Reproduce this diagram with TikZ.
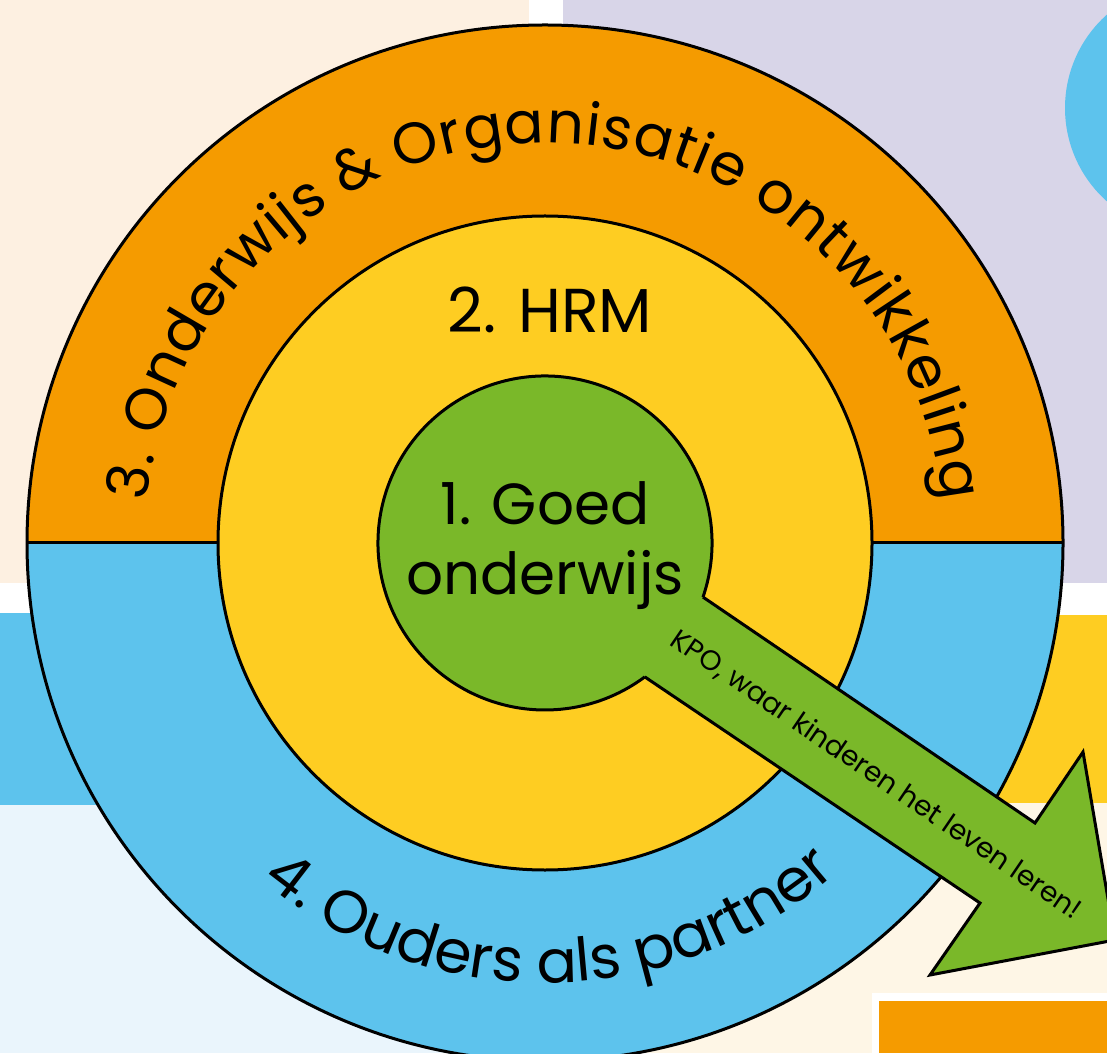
\documentclass[tikz,border=0pt]{standalone}
\usepackage{fontspec}
\setmainfont{Poppins}
\newfontfamily\kpofont{Poppins}
\usepackage{tikz}
\usetikzlibrary{calc}
\usetikzlibrary{decorations.text}
\usepackage{xcolor}

\definecolor{kpoOrange}{RGB}{245,155,0}
\definecolor{kpoYellow}{RGB}{254,205,34}
\definecolor{kpoBlue}{RGB}{93,195,237}
\definecolor{kpoGreen}{RGB}{122,184,41}
\definecolor{kpoCream}{RGB}{253,240,225}
\definecolor{kpoLavender}{RGB}{216,213,232}
\definecolor{kpoIce}{RGB}{234,245,252}
\definecolor{kpoSand}{RGB}{254,246,230}

\tikzset{
	ringline/.style={draw=black, line width=3pt},
	ringtext/.style={font=\kpofont\fontsize{#1}{#1}\selectfont, text=black, inner sep=0pt}
}

\begin{document}
\begin{tikzpicture} [x=1pt, y=1pt]
	\useasboundingbox (0, 0) rectangle (1107, 1053);
	\clip (0, 0) rectangle (1107, 1053);
	% achtergrondvlakken
	\fill [white] (0, 0) rectangle (1107, 1053);
	\fill [kpoCream] (0, 470) rectangle (529, 1053);
	\fill [kpoLavender] (563, 470) rectangle (1107, 1053);
	\fill [kpoBlue] (0, 248) rectangle (529, 440);
	\fill [kpoYellow] (563, 250) rectangle (1107, 438);
	\fill [kpoIce] (0, 0) rectangle (529, 248);
	\fill [kpoSand] (563, 0) rectangle (1107, 250);
	\fill [kpoBlue] (1190, 945) circle [radius=125];
	\fill [white] (872, 0) rectangle (1107, 60);
	\fill [kpoOrange] (879, 0) rectangle (1107, 52);
	% ringen
	\coordinate (c) at (545, 510);
	\fill [kpoOrange] ($(c)+(518, 0)$) arc [start angle=0, end angle=180, radius=518] -- cycle;
	\fill [kpoBlue] ($(c)+(-518, 0)$) arc [start angle=180, end angle=360, radius=518] -- cycle;
	\draw [ringline] (c) circle [radius=518];
	\draw [ringline] ($(c)+(-518, 0)$) -- ($(c)+(518, 0)$);
	\filldraw [ringline, fill=kpoYellow] (c) circle [radius=327];
	% pijl vanuit het midden
	\coordinate (p1) at ($(c)+(-18.9:167)$);
	\coordinate (p2) at (1035, 230);
	\coordinate (p3) at (1083, 301);
	\coordinate (p4) at (1115, 113);
	\coordinate (p5) at (930, 78);
	\coordinate (p6) at (980, 150);
	\coordinate (p7) at ($(c)+(-53.3:167)$);
	\fill [kpoGreen] (p1)--(p2)--(p3)--(p4)--(p5)--(p6)--(p7)--cycle;
	\fill [kpoGreen] (c) circle [radius=167];
	\draw [ringline, line join=miter] (p1)--(p2)--(p3)--(p4)--(p5)--(p6)--(p7);
	\draw [ringline] (p1) arc [start angle=-18.9, end angle=306.7, radius=167];
	% teksten
	\node [ringtext=58, align=center] (goed) at (545, 507) {1. Goed\\[12pt]onderwijs};
	\node [ringtext=62, anchor=base] (hrm) at (550, 720) {2. HRM};
	\node [ringtext=28, rotate=-34.25] (kpo) at (876, 278) {KPO, waar kinderen het leven leren!};
	\path [decorate, decoration={text along path, text align={fit to path},
		text={|\kpofont\fontsize{58}{58}\selectfont|3. Onderwijs {\&} Organisatie ontwikkeling}}]
		($(c)+(174:400)$) arc [start angle=174, end angle=6, radius=400];
	\path [decorate, decoration={text along path, text align={fit to path},
		text={|\kpofont\fontsize{60}{60}\selectfont|4. Ouders als partner}}]
		($(c)+(230:440)$) arc [start angle=230, end angle=311, radius=440];
\end{tikzpicture}
\end{document}
